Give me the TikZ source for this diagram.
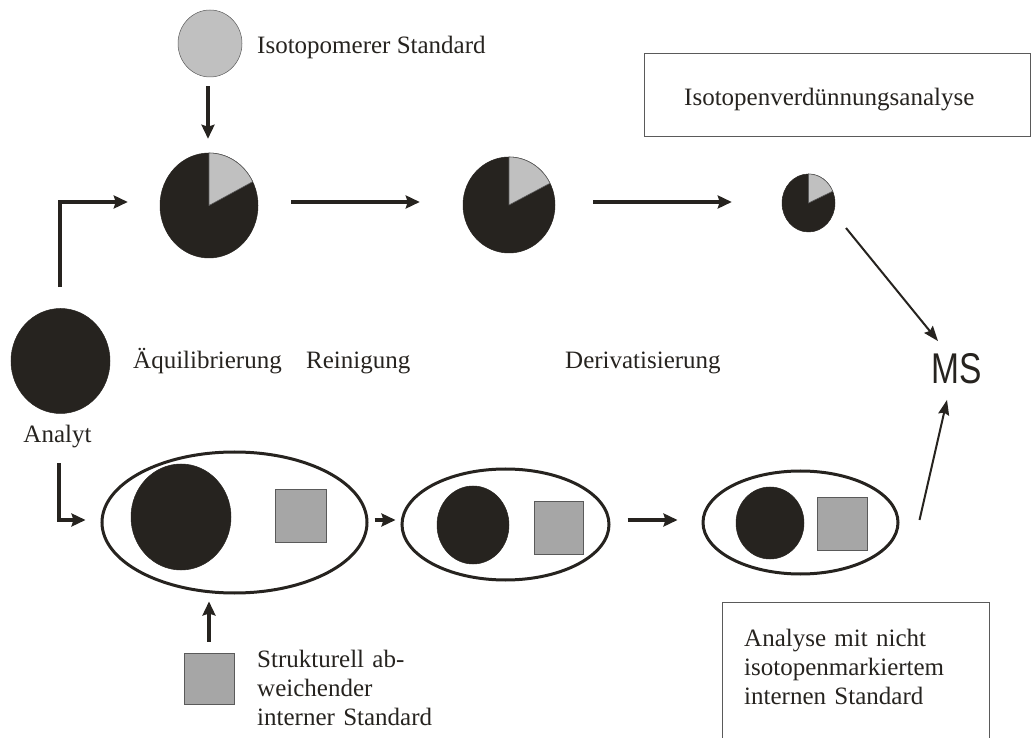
\documentclass[tikz,border=0pt]{standalone}
\usepackage{fontspec}
\setmainfont{Liberation Serif}
\newfontfamily\msfont[FakeStretch=0.78]{Liberation Sans}
\usetikzlibrary{shapes.geometric,arrows.meta}
\definecolor{analytfarbe}{HTML}{26231F}
\definecolor{isofarbe}{HTML}{C0C0C0}
\definecolor{stdfarbe}{HTML}{A6A6A6}
\definecolor{randfarbe}{HTML}{5A5A5A}

\begin{document}
\begin{tikzpicture}[x=1pt,y=1pt,
    txt/.style={font=\fontsize{25}{29}\selectfont,inner sep=0pt,anchor=base west,text=analytfarbe},
    kreis/.style={ellipse,inner sep=0pt,fill=analytfarbe,draw=analytfarbe,line width=0.5pt},
    quadrat/.style={rectangle,inner sep=0pt,fill=stdfarbe,draw=randfarbe,line width=0.8pt},
    huelle/.style={ellipse,inner sep=0pt,draw=analytfarbe,line width=3pt},
    kasten/.style={rectangle,inner sep=0pt,draw=randfarbe,line width=1pt},
    pfeil/.style={draw=analytfarbe,line width=3.5pt,-{Stealth[length=14pt,width=13pt,inset=2pt]}},
    duenn/.style={draw=analytfarbe,line width=2pt,-{Stealth[length=15pt,width=11pt,inset=2pt]}}]
    \useasboundingbox (0,0) rectangle (1031,737);

    % obere Reihe: Isotopenverduennung
    \node[kreis,fill=isofarbe,draw=randfarbe,minimum width=64pt,minimum height=67pt] (iso) at (210,693.5) {};
    \node[txt] (isolab) at (257,683) {Isotopomerer Standard};

    \node[kreis,minimum width=98pt,minimum height=105pt] (p1) at (209,531.5) {};
    \filldraw[fill=isofarbe,draw=randfarbe,line width=0.6pt] (p1.center) -- ++(0,52.5) arc[start angle=90,end angle=27,x radius=49,y radius=52.5] -- cycle;
    \node[kreis,minimum width=92pt,minimum height=96pt] (p2) at (509,532) {};
    \filldraw[fill=isofarbe,draw=randfarbe,line width=0.6pt] (p2.center) -- ++(0,48) arc[start angle=90,end angle=27,x radius=46,y radius=48] -- cycle;
    \node[kreis,minimum width=53pt,minimum height=58pt] (p3) at (808.5,534) {};
    \filldraw[fill=isofarbe,draw=randfarbe,line width=0.6pt] (p3.center) -- ++(0,29) arc[start angle=90,end angle=24,x radius=26.5,y radius=29] -- cycle;

    \node[kasten,anchor=north west,minimum width=386pt,minimum height=83pt] (vdbox) at (644,684) {};
    \node[txt] (vdlab) at (684,631) {Isotopenverdünnungsanalyse};

    \node[inner sep=0pt,text=analytfarbe,font=\msfont\fontsize{43}{43}\selectfont] (ms) at (956.5,368.5) {MS};

    % Analyt und Schritte
    \node[kreis,minimum width=99pt,minimum height=105pt] (analyt) at (60.5,376) {};
    \node[txt,anchor=base] (analytlab) at (57.5,294) {Analyt};
    \node[txt] (schritt1) at (133,368) {Äquilibrierung};
    \node[txt] (schritt2) at (306,368) {Reinigung};
    \node[txt] (schritt3) at (565,368) {Derivatisierung};

    % untere Reihe: interner Standard
    \node[huelle,minimum width=265pt,minimum height=141pt] (e1) at (234.5,214.5) {};
    \node[kreis,minimum width=100pt,minimum height=106pt] (k1) at (181,220) {};
    \node[quadrat,minimum width=51pt,minimum height=53pt] (q1) at (300.5,221.5) {};
    \node[huelle,minimum width=207pt,minimum height=111pt] (e2) at (505.5,212.5) {};
    \node[kreis,minimum width=72pt,minimum height=78pt] (k2) at (473,212) {};
    \node[quadrat,minimum width=49pt,minimum height=53pt] (q2) at (558.5,209.5) {};
    \node[huelle,minimum width=195pt,minimum height=103pt] (e3) at (800.5,214.5) {};
    \node[kreis,minimum width=68pt,minimum height=72pt] (k3) at (770,214) {};
    \node[quadrat,minimum width=50pt,minimum height=53pt] (q3) at (842,213.5) {};

    \node[quadrat,minimum width=50pt,minimum height=51pt] (std) at (209,58.5) {};
    \node[txt,text width=250pt,align=left] (stdlab) at (257,70) {Strukturell ab-\\weichender\\interner Standard};

    \node[kasten,anchor=north west,minimum width=267pt,minimum height=150pt] (intbox) at (722,135) {};
    \node[txt,text width=240pt,align=left] (intlab) at (744,91) {Analyse mit nicht\\isotopenmarkiertem\\internen Standard};

    % Pfeile
    \draw[pfeil] ([xshift=-2pt,yshift=-9pt]iso.south) -- ([xshift=-2pt,yshift=14pt]iso.south |- p1.north);
    \draw[pfeil] ([xshift=-0.5pt,yshift=21pt]analyt.north) |- ([xshift=-32pt,yshift=3.5pt]p1.west);
    \draw[pfeil] ([xshift=33pt,yshift=3.5pt]p1.east) -- ([xshift=-43pt,yshift=3.5pt]p1.east -| p2.west);
    \draw[pfeil] ([xshift=38pt,yshift=3pt]p2.east) -- ([xshift=-50pt,yshift=3pt]p2.east -| p3.west);
    \draw[duenn] ([shift={(37.5pt,-25pt)}]p3.center) -- ([shift={(-18.5pt,12pt)}]ms.north);

    \draw[pfeil] ([xshift=-1.5pt,yshift=-49.5pt]analyt.south) |- ([xshift=-15pt,yshift=2.5pt]e1.west);
    \draw[pfeil] ([xshift=6pt,yshift=2.5pt]e1.east) -- ([xshift=-5pt,yshift=2.5pt]e1.east -| e2.west);
    \draw[pfeil] ([xshift=17pt,yshift=4.5pt]e2.east) -- ([xshift=-24pt,yshift=4.5pt]e2.east -| e3.west);
    \draw[duenn] ([xshift=20pt,yshift=2.5pt]e3.east) -- ([shift={(-9.5pt,-16pt)}]ms.south);
    \draw[pfeil] ([yshift=11pt]std.north) -- ([yshift=-7pt]std.north |- e1.south);

\end{tikzpicture}
\end{document}
